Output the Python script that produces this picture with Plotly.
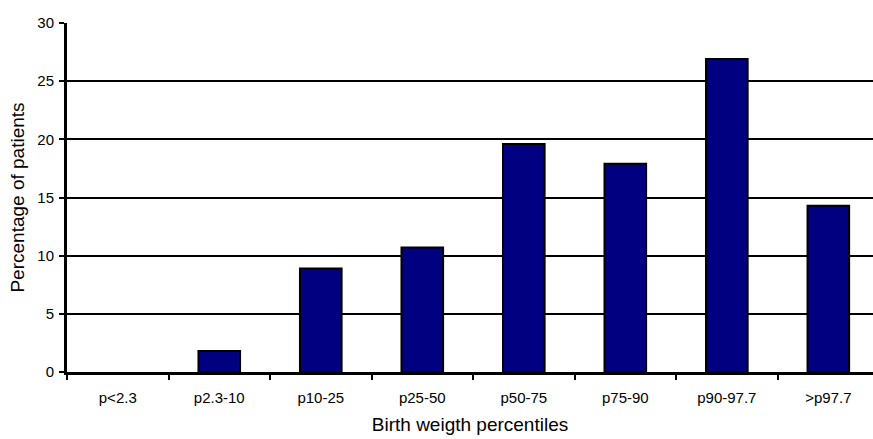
import plotly.graph_objects as go

categories = ["p<2.3", "p2.3-10", "p10-25", "p25-50", "p50-75", "p75-90", "p90-97.7", ">p97.7"]
percentages = [0, 1.8, 8.9, 10.7, 19.6, 17.9, 26.9, 14.3]
y_ticks = [0, 5, 10, 15, 20, 25, 30]

outline_widths = [0 if v == 0 else 2 for v in percentages]

fig = go.Figure(go.Bar(
    x=categories, y=percentages,
    marker=dict(color="#000080", line=dict(color="black", width=outline_widths)),
    width=0.41,
))

fig.update_layout(
    width=873, height=439,
    margin=dict(l=67, r=0, t=23, b=67, autoexpand=False),
    paper_bgcolor="white", plot_bgcolor="white",
    font=dict(family="Liberation Sans, Arial, sans-serif", color="black"),
    showlegend=False,
)
fig.update_xaxes(
    range=[-0.5, 7.44], automargin=False,
    showline=True, linecolor="black", linewidth=3,
    ticks="outside", tickson="boundaries", ticklen=5, tickwidth=2, tickcolor="black",
    tickfont=dict(size=15), ticklabelstandoff=10,
    showgrid=False,
    title=dict(text="Birth weigth percentiles", font=dict(size=19), standoff=13),
)
fig.update_yaxes(
    range=[0, 30], tickvals=y_ticks, automargin=False,
    showline=True, linecolor="black", linewidth=3,
    ticks="outside", ticklen=5, tickwidth=2, tickcolor="black",
    tickfont=dict(size=15), ticklabelstandoff=2,
    showgrid=True, gridcolor="black", gridwidth=2,
    zeroline=False,
    title=dict(text="Percentage of patients", font=dict(size=19), standoff=8),
)

fig.write_html(
    "out.html",
    config={"displayModeBar": False},
    post_script="document.body.style.margin='0';document.body.style.overflow='hidden';",
)
